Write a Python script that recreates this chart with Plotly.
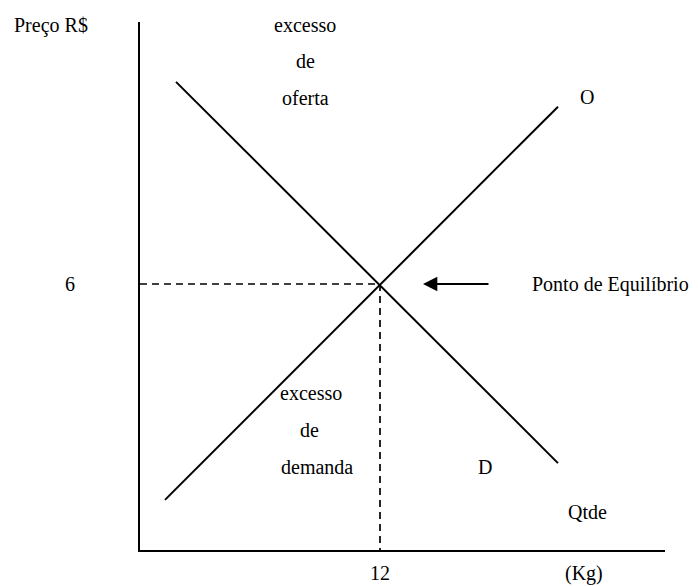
import plotly.graph_objects as go

# Data (quantity in Kg, price in R$)
supply_q = [1.25, 20.9]
supply_p = [1.13, 10.0]
demand_q = [1.8, 20.9]
demand_p = [10.56, 1.96]
eq_q = 12
eq_p = 6
x_ticks = [12]
y_ticks = [6]

FONT = "Liberation Serif"
FS = 20
fig = go.Figure()

fig.add_trace(go.Scatter(x=supply_q, y=supply_p, mode="lines",
                         line=dict(color="black", width=2), hoverinfo="skip"))
fig.add_trace(go.Scatter(x=demand_q, y=demand_p, mode="lines",
                         line=dict(color="black", width=2), hoverinfo="skip"))
# dashed guides to equilibrium
fig.add_trace(go.Scatter(x=[0, eq_q], y=[eq_p, eq_p], mode="lines",
                         line=dict(color="black", width=1.7, dash="7px,5px"), hoverinfo="skip"))
fig.add_trace(go.Scatter(x=[eq_q, eq_q], y=[eq_p, 0], mode="lines",
                         line=dict(color="black", width=1.7, dash="7px,5px"), hoverinfo="skip"))

def txt(x, y, s, xanchor="center", xref="x", yref="y", size=FS):
    fig.add_annotation(x=x, y=y, xref=xref, yref=yref, text=s, showarrow=False,
                       xanchor=xanchor, yanchor="middle",
                       font=dict(family=FONT, size=size, color="black"))

txt(-0.17, 0.994, "Preço R$", xref="paper", yref="paper")
txt(8.25, 11.84, "excesso")
txt(8.25, 11.03, "de")
txt(8.25, 10.2, "oferta")
txt(22.35, 10.22, "O")
txt(-0.133, y_ticks[0], str(y_ticks[0]), xref="paper")
txt(19.5, eq_p, "Ponto de Equilíbrio", xanchor="left")
txt(8.55, 3.54, "excesso")
txt(8.45, 2.71, "de")
txt(8.85, 1.87, "demanda")
txt(17.25, 1.87, "D")
txt(22.35, 0.86, "Qtde")
txt(x_ticks[0], -0.044, str(x_ticks[0]), yref="paper")
txt(22.2, -0.044, "(Kg)", yref="paper")

# arrow pointing to equilibrium
fig.add_annotation(x=14.15, y=eq_p, ax=17.5, ay=eq_p, xref="x", yref="y",
                   axref="x", ayref="y", text="", showarrow=True,
                   arrowhead=2, arrowsize=1.3, arrowwidth=2.2, arrowcolor="black")

fig.update_layout(
    width=698, height=586,
    margin=dict(l=140, r=33, t=22, b=36),
    paper_bgcolor="white", plot_bgcolor="white",
    showlegend=False,
    xaxis=dict(range=[0, 26.25], showgrid=False, zeroline=False, showticklabels=False,
               ticks="", showline=True, linecolor="black", linewidth=2),
    yaxis=dict(range=[0, 11.91], showgrid=False, zeroline=False, showticklabels=False,
               ticks="", showline=True, linecolor="black", linewidth=2),
)

fig.write_html("out.html", config={"displayModeBar": False},
               post_script="document.body.style.margin='0';document.body.style.overflow='hidden';")
